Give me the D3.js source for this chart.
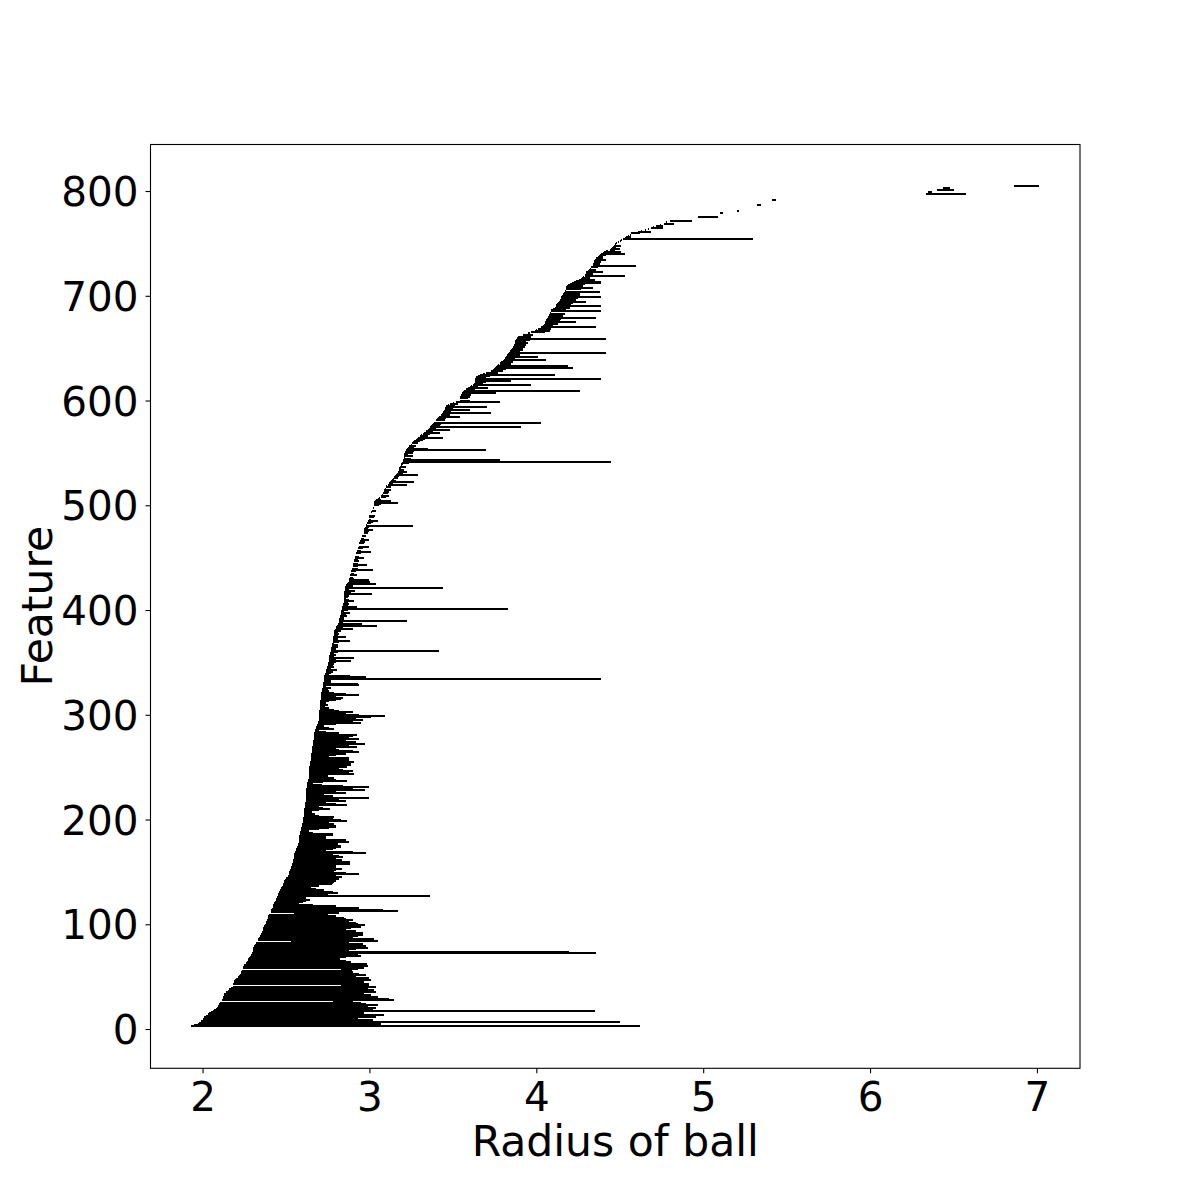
<!DOCTYPE html>
<html>
<head>
<meta charset="utf-8">
<script src="https://cdn.jsdelivr.net/npm/d3@7"></script>
<style>
html,body{margin:0;padding:0;background:#fff;}
text{font-family:"DejaVu Sans",sans-serif;fill:#000;}
</style>
</head>
<body>
<svg id="chart" width="1200" height="1200"></svg>
<script>
// Feature numbers of the main run start at this value and go up by one per bar
const firstFeature = 3;

// Birth (left end) of each bar, features 3..770
const births = [
1.93,1.95,1.97,1.98,1.99,1.99,2.00,2.00,2.01,2.02,
2.03,2.03,2.04,2.05,2.06,2.07,2.08,2.085,2.09,2.09,
2.10,2.10,2.105,2.78,2.79,2.115,2.12,2.12,2.12,2.13,
2.13,2.14,2.14,2.15,2.16,2.16,2.17,2.18,2.83,2.83,
2.185,2.19,2.19,2.19,2.195,2.20,2.21,2.21,2.22,2.225,
2.23,2.23,2.235,2.83,2.83,2.24,2.245,2.25,2.25,2.26,
2.26,2.265,2.27,2.27,2.275,2.28,2.285,2.29,2.29,2.295,
2.295,2.30,2.30,2.30,2.305,2.31,2.31,2.315,2.32,2.32,
2.53,2.53,2.33,2.335,2.34,2.345,2.345,2.35,2.35,2.355,
2.355,2.36,2.36,2.365,2.37,2.37,2.375,2.38,2.38,2.38,
2.385,2.385,2.39,2.39,2.39,2.395,2.40,2.55,2.55,2.41,
2.41,2.41,2.415,2.42,2.42,2.425,2.43,2.43,2.435,2.44,
2.44,2.44,2.445,2.445,2.45,2.45,2.455,2.46,2.46,2.465,
2.465,2.47,2.47,2.475,2.48,2.48,2.485,2.49,2.49,2.495,
2.50,2.50,2.51,2.51,2.515,2.515,2.52,2.52,2.525,2.525,
2.53,2.53,2.53,2.535,2.535,2.535,2.54,2.54,2.54,2.545,
2.545,2.545,2.55,2.55,2.55,2.555,2.555,2.56,2.56,2.56,
2.565,2.565,2.57,2.57,2.57,2.575,2.575,2.575,2.58,2.58,
2.58,2.58,2.585,2.585,2.585,2.585,2.59,2.59,2.59,2.59,
2.595,2.595,2.595,2.595,2.60,2.60,2.60,2.60,2.60,2.605,
2.605,2.605,2.605,2.61,2.61,2.61,2.61,2.61,2.615,2.615,
2.615,2.615,2.615,2.615,2.62,2.62,2.62,2.62,2.62,2.62,
2.62,2.62,2.62,2.62,2.62,2.62,2.62,2.625,2.625,2.625,
2.625,2.625,2.625,2.63,2.63,2.63,2.635,2.635,2.635,2.635,
2.635,2.64,2.64,2.64,2.64,2.64,2.64,2.64,2.645,2.645,
2.645,2.645,2.645,2.65,2.65,2.65,2.65,2.65,2.65,2.65,
2.65,2.655,2.655,2.655,2.655,2.655,2.655,2.66,2.66,2.66,
2.66,2.66,2.66,2.665,2.665,2.665,2.665,2.665,2.67,2.67,
2.67,2.675,2.675,2.68,2.68,2.68,2.685,2.685,2.69,2.69,
2.69,2.695,2.695,2.695,2.70,2.70,2.70,2.70,2.70,2.70,
2.70,2.70,2.705,2.705,2.705,2.705,2.705,2.705,2.705,2.705,
2.705,2.71,2.71,2.71,2.71,2.71,2.71,2.71,2.71,2.715,
2.715,2.715,2.715,2.72,2.72,2.72,2.72,2.72,2.725,2.725,
2.725,2.725,2.73,2.73,2.73,2.735,2.735,2.74,2.74,2.74,
2.74,2.745,2.745,2.745,2.75,2.75,2.75,2.755,2.755,2.755,
2.76,2.76,2.76,2.76,2.765,2.765,2.765,2.77,2.77,2.77,
2.77,2.77,2.775,2.775,2.775,2.775,2.78,2.78,2.78,2.78,
2.78,2.78,2.785,2.785,2.785,2.785,2.79,2.79,2.795,2.80,
2.80,2.80,2.805,2.81,2.81,2.815,2.82,2.82,2.82,2.825,
2.825,2.825,2.83,2.83,2.83,2.83,2.83,2.835,2.835,2.835,
2.835,2.84,2.84,2.84,2.845,2.845,2.85,2.85,2.85,2.85,
2.85,2.85,2.85,2.85,2.85,2.855,2.855,2.855,2.855,2.855,
2.86,2.86,2.865,2.87,2.875,2.875,2.88,2.88,2.885,2.885,
2.885,2.89,2.89,2.89,2.89,2.895,2.895,2.895,2.895,2.90,
2.90,2.90,2.905,2.905,2.91,2.91,2.91,2.915,2.915,2.92,
2.92,2.92,2.925,2.925,2.93,2.93,2.93,2.935,2.935,2.94,
2.94,2.94,2.945,2.945,2.95,2.95,2.95,2.955,2.955,2.96,
2.96,2.965,2.965,2.97,2.97,2.975,2.98,2.98,2.98,2.985,
2.985,2.99,2.99,2.995,2.995,3.00,3.00,3.00,3.005,3.01,
3.01,3.01,3.015,3.02,3.02,3.02,3.025,3.025,3.03,3.03,
3.03,3.035,3.04,3.05,3.06,3.07,3.07,3.075,3.08,3.08,
3.085,3.09,3.09,3.095,3.10,3.10,3.11,3.12,3.12,3.125,
3.13,3.135,3.14,3.145,3.15,3.155,3.16,3.165,3.17,3.17,
3.175,3.175,3.18,3.18,3.185,3.19,3.19,3.195,3.20,3.20,
3.20,3.205,3.205,3.21,3.21,3.21,3.21,3.215,3.215,3.22,
3.22,3.225,3.23,3.24,3.24,3.25,3.255,3.26,3.27,3.28,
3.285,3.29,3.30,3.305,3.31,3.32,3.325,3.33,3.34,3.35,
3.355,3.36,3.365,3.37,3.375,3.38,3.385,3.39,3.40,3.405,
3.41,3.415,3.42,3.43,3.435,3.44,3.44,3.445,3.45,3.45,
3.455,3.46,3.46,3.47,3.48,3.50,3.52,3.54,3.54,3.545,
3.545,3.55,3.55,3.555,3.555,3.56,3.565,3.57,3.58,3.59,
3.60,3.61,3.62,3.625,3.63,3.63,3.63,3.63,3.635,3.64,
3.65,3.66,3.68,3.70,3.72,3.73,3.74,3.745,3.75,3.76,
3.765,3.77,3.78,3.785,3.79,3.80,3.805,3.81,3.815,3.82,
3.825,3.83,3.835,3.84,3.845,3.85,3.855,3.86,3.86,3.865,
3.865,3.87,3.87,3.875,3.875,3.88,3.885,3.885,3.89,3.90,
3.92,3.95,3.97,3.99,4.00,4.01,4.02,4.03,4.04,4.045,
4.05,4.05,4.055,4.06,4.06,4.065,4.07,4.07,4.075,4.075,
4.08,4.08,4.085,4.09,4.10,4.11,4.115,4.12,4.12,4.125,
4.13,4.135,4.14,4.14,4.145,4.15,4.15,4.155,4.16,4.16,
4.165,4.17,4.17,4.175,4.175,4.18,4.185,4.19,4.20,4.215,
4.225,4.24,4.255,4.27,4.275,4.28,4.29,4.29,4.295,4.30,
4.30,4.31,4.315,4.32,4.33,4.34,4.34,4.34,4.345,4.345,
4.345,4.35,4.355,4.36,4.37,4.375,4.38,4.39,4.40,4.405,
4.42,4.44,4.45,4.455,4.46,4.465,4.47,4.48,4.49,4.50,
4.51,4.52,4.53,4.54,4.55,4.56,4.565,4.57,4.61,4.63,
4.65,4.67,4.69,4.70,4.72,4.74,4.765,4.78
];

// Death (right end) of each bar, features 3..770
const deaths = [
4.62,2.95,3.07,2.90,4.50,2.98,3.02,2.93,3.04,2.96,
3.09,2.94,2.97,2.92,4.35,2.97,3.02,3.04,2.99,2.93,
3.05,2.98,2.95,2.81,2.90,3.15,3.12,2.96,3.05,3.01,
2.97,2.92,3.04,2.94,3.03,2.99,2.95,3.04,2.97,3.00,
3.00,2.93,2.97,2.90,3.01,2.95,3.00,2.92,2.88,2.98,
2.94,2.90,2.895,2.86,2.93,2.97,2.96,2.99,2.92,2.985,
2.885,2.89,2.86,2.82,2.825,2.80,2.86,2.95,2.90,2.93,
4.36,4.195,2.88,2.92,2.99,2.94,2.98,2.90,2.96,2.85,
2.88,3.05,2.97,3.03,2.745,2.90,2.93,2.96,2.88,2.96,
2.90,2.92,2.86,2.89,2.95,2.84,2.975,2.93,2.92,2.88,
2.87,2.90,2.86,2.85,2.72,2.80,2.75,2.70,2.82,2.76,
3.17,3.08,2.86,2.94,2.80,2.66,2.58,2.55,2.60,2.62,
2.645,2.60,2.62,2.60,3.365,2.70,2.75,2.81,2.78,2.73,
2.73,2.68,2.625,2.65,2.70,2.775,2.78,2.79,2.80,2.76,
2.82,2.79,2.835,2.80,2.75,2.94,2.86,2.72,2.785,2.80,
2.835,2.78,2.80,2.76,2.80,2.885,2.885,2.79,2.835,2.80,
2.74,2.84,2.82,2.78,2.70,2.98,2.90,2.74,2.72,2.78,
2.80,2.83,2.83,2.81,2.81,2.75,2.88,2.86,2.70,2.74,
2.74,2.70,2.78,2.78,2.66,2.635,2.635,2.64,2.70,2.76,
2.80,2.80,2.72,2.785,2.76,2.70,2.865,2.83,2.78,2.785,
2.70,2.675,2.675,2.64,2.655,2.655,2.70,2.765,2.72,2.68,
2.70,2.865,2.80,2.74,2.70,2.86,2.82,2.76,3.00,2.78,
2.73,2.70,2.86,2.80,2.76,2.975,2.90,2.88,3.00,2.84,
2.715,2.645,2.66,2.72,2.865,2.80,2.76,2.785,2.70,2.75,
2.905,2.88,2.80,2.90,2.84,2.82,2.76,2.865,2.80,2.89,
2.85,2.89,2.905,2.80,2.88,2.85,2.88,2.76,2.72,2.80,
2.86,2.94,2.90,2.82,2.80,2.70,2.925,2.88,2.80,2.975,
2.90,2.92,2.86,2.80,2.935,2.88,2.80,2.90,2.925,2.80,
2.815,2.74,2.70,2.785,2.76,2.70,2.73,2.72,2.80,2.95,
2.90,2.88,2.96,2.92,2.80,3.01,3.095,2.94,2.86,2.80,
2.90,2.82,2.785,2.76,2.735,2.72,2.75,2.73,2.74,2.725,
2.76,2.80,2.83,2.84,2.80,2.78,2.935,2.86,2.785,2.75,
2.76,2.75,2.75,2.77,2.74,2.935,2.93,2.76,2.77,2.76,
2.77,4.39,2.78,2.98,2.885,2.76,2.74,2.77,2.78,2.76,
2.805,2.77,2.75,2.79,2.78,2.79,2.76,2.80,2.89,2.78,
2.80,2.91,2.79,2.77,2.80,2.79,2.78,2.81,3.415,2.79,
2.80,2.78,2.81,2.80,2.81,2.79,2.82,2.885,2.80,2.81,
2.80,2.86,2.81,2.79,2.82,2.81,2.80,2.83,2.82,2.90,
2.84,2.82,3.045,2.83,2.955,2.84,2.83,3.225,2.85,2.84,
2.85,2.865,2.84,2.86,2.885,2.85,2.84,2.87,3.83,2.86,
2.925,2.87,2.85,2.875,2.87,2.86,2.905,2.88,2.86,2.87,
2.88,2.87,3.015,2.89,2.87,2.915,2.88,2.87,3.44,2.89,
2.90,2.88,3.04,2.91,3.005,2.90,3.00,2.91,2.90,2.885,
2.925,2.91,2.89,2.89,2.92,3.02,2.93,2.895,2.895,2.93,
2.985,2.93,2.905,2.905,2.94,2.93,2.91,2.97,2.94,2.92,
2.92,2.95,3.01,2.95,2.93,2.93,2.96,2.995,2.935,2.94,
2.94,2.97,2.975,2.96,3.00,2.97,2.95,2.955,2.98,2.96,
2.96,2.99,3.00,3.02,2.99,2.98,3.00,3.26,2.985,2.985,
3.01,3.02,3.05,3.01,2.995,3.00,3.03,3.035,3.005,3.01,
3.01,3.015,3.04,3.02,3.025,3.02,3.025,3.06,3.07,3.17,
3.08,3.13,3.07,3.055,3.065,3.10,3.12,3.08,3.08,3.11,
3.12,3.095,3.13,3.10,3.13,3.105,3.225,3.14,3.125,3.27,
3.16,3.14,3.145,3.17,3.155,3.18,3.29,3.17,3.20,3.225,
3.18,3.21,3.185,3.19,3.22,3.195,3.20,3.24,4.445,3.23,
3.78,3.25,3.21,3.215,3.26,3.23,3.215,3.26,3.22,3.27,
3.70,3.35,3.27,3.245,3.28,3.255,3.29,3.265,3.30,3.32,
3.33,3.44,3.305,3.35,3.315,3.36,3.42,3.335,3.38,3.48,
3.40,3.365,3.91,3.42,3.38,3.43,4.03,3.395,3.45,3.41,
3.46,3.54,3.425,3.48,3.44,3.73,3.49,3.45,3.60,3.50,
3.46,3.705,3.51,3.475,3.53,3.505,3.78,3.60,3.545,3.59,
3.60,3.555,3.61,3.56,3.76,3.62,4.26,3.575,3.63,3.71,
3.65,3.615,3.97,3.68,3.635,3.70,3.85,3.64,4.39,3.70,
3.72,4.11,3.69,3.77,3.725,3.80,3.745,3.82,4.22,3.81,
4.19,3.775,3.85,3.79,3.86,3.805,4.06,3.87,3.82,4.01,
3.90,3.835,4.42,3.90,3.85,3.92,3.92,3.865,3.93,3.87,
3.94,3.875,3.95,3.94,3.88,3.96,4.42,3.89,3.97,3.905,
3.98,3.96,4.05,4.08,4.005,4.09,4.025,4.36,4.10,4.05,
4.13,4.06,4.24,4.14,4.07,4.15,4.36,4.08,4.16,4.085,
4.17,4.09,4.39,4.18,4.11,4.20,4.12,4.39,4.21,4.13,
4.22,4.30,4.145,4.24,4.15,4.25,4.39,4.16,4.26,4.165,
4.26,4.38,4.175,4.27,4.34,4.185,4.28,4.20,4.29,4.39,
4.39,4.30,4.35,4.275,4.32,4.285,4.53,4.30,4.34,4.305,
4.40,4.315,4.36,4.325,4.37,4.60,4.345,4.38,4.35,4.39,
4.35,4.42,4.36,4.40,4.40,4.38,4.42,4.53,4.405,4.51,
4.43,4.47,4.50,4.46,4.48,4.51,4.475,4.485,4.495,4.505,
4.515,5.30,4.55,4.57,4.555,4.565,4.57,4.62,4.69,4.635,
4.655,4.675,4.76,4.705,4.76,4.745,4.825,4.785
];

// Sparse upper bars (features with visible length only)
const upperFeature = [771, 775, 779, 781, 787, 791, 797, 799, 801, 803, 805];
const upperBirth   = [4.80, 4.97, 5.10, 5.20, 5.32, 5.41, 6.335, 6.35, 6.40, 6.435, 6.86];
const upperDeath   = [4.93, 5.09, 5.12, 5.215, 5.345, 5.435, 6.575, 6.37, 6.50, 6.48, 7.01];

const xTicks = [2, 3, 4, 5, 6, 7];
const yTicks = [0, 100, 200, 300, 400, 500, 600, 700, 800];
const xLabel = "Radius of ball";
const yLabel = "Feature";

// Build the bar table
const bars = births.map((b, i) => ({feature: firstFeature + i, birth: b, death: deaths[i]}))
  .concat(upperFeature.map((f, i) => ({feature: f, birth: upperBirth[i], death: upperDeath[i]})));

const svg = d3.select("#chart");
const plot = {left: 150.5, right: 1080, top: 144, bottom: 1068.3};

const x = d3.scaleLinear().domain([1.688, 7.258]).range([plot.left, plot.right]);
const y = d3.scaleLinear().domain([-37.5, 844.9]).range([plot.bottom, plot.top]);

// bars
svg.append("g")
  .attr("shape-rendering", "crispEdges")
  .selectAll("line")
  .data(bars)
  .join("line")
  .attr("x1", d => x(d.birth))
  .attr("x2", d => x(d.death))
  .attr("y1", d => y(d.feature))
  .attr("y2", d => y(d.feature))
  .attr("stroke", "#000")
  .attr("stroke-width", 2);

// axes
const tickFont = 40.5;
const labelFont = 42.5;
const xAxis = d3.axisBottom(x).tickValues(xTicks).tickFormat(d3.format("d")).tickSizeInner(5).tickSizeOuter(0).tickPadding(6);
const yAxis = d3.axisLeft(y).tickValues(yTicks).tickFormat(d3.format("d")).tickSizeInner(5).tickSizeOuter(0).tickPadding(6);

const gx = svg.append("g").attr("transform", `translate(0,${plot.bottom})`).call(xAxis);
const gy = svg.append("g").attr("transform", `translate(${plot.left},0)`).call(yAxis);
[gx, gy].forEach(g => {
  g.select(".domain").remove();
  g.selectAll(".tick line").attr("stroke", "#000").attr("stroke-width", 1.1);
  g.selectAll(".tick text").attr("font-family", "DejaVu Sans").attr("font-size", tickFont).attr("fill", "#000");
});
gx.selectAll(".tick text").attr("dy", null).attr("y", 43);
gy.selectAll(".tick text").attr("dy", "0.36em").attr("x", -12);

// frame
svg.append("rect")
  .attr("x", plot.left).attr("y", plot.top + 0.5)
  .attr("width", plot.right - plot.left).attr("height", plot.bottom - plot.top - 0.5)
  .attr("fill", "none").attr("stroke", "#000").attr("stroke-width", 1.1);

// axis labels
svg.append("text")
  .attr("x", (plot.left + plot.right) / 2).attr("y", 1156)
  .attr("text-anchor", "middle").attr("font-size", labelFont)
  .text(xLabel);
svg.append("text")
  .attr("transform", `translate(52,${(plot.top + plot.bottom) / 2}) rotate(-90)`)
  .attr("text-anchor", "middle").attr("font-size", labelFont)
  .text(yLabel);
</script>
</body>
</html>
